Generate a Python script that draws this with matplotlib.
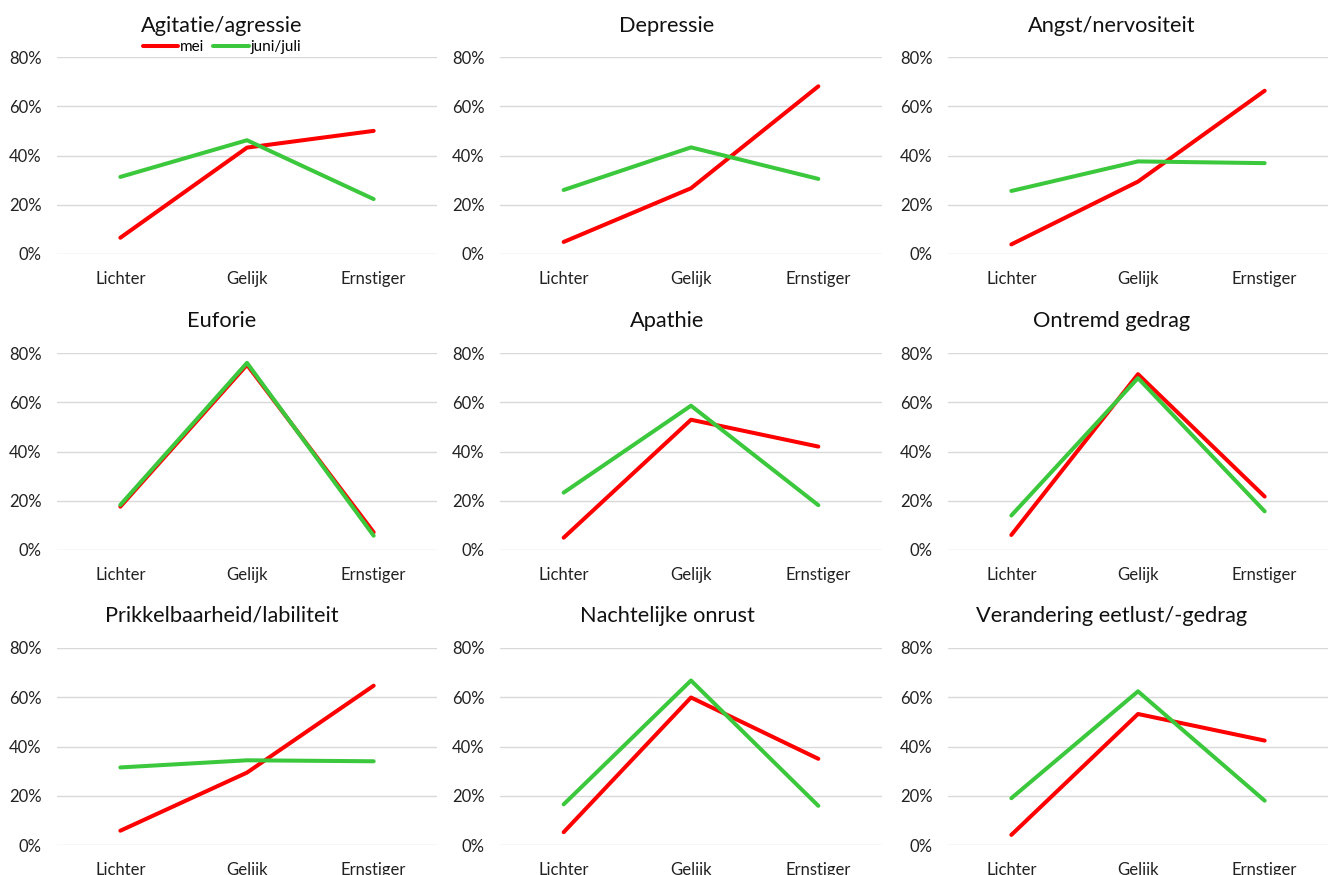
import matplotlib.pyplot as plt
from matplotlib.ticker import PercentFormatter

plt.rcParams["font.family"] = ["Lato", "DejaVu Sans"]

categories = ["Lichter", "Gelijk", "Ernstiger"]
series_names = ["mei", "juni/juli"]
titles = [
    "Agitatie/agressie", "Depressie", "Angst/nervositeit",
    "Euforie", "Apathie", "Ontremd gedrag",
    "Prikkelbaarheid/labiliteit", "Nachtelijke onrust", "Verandering eetlust/-gedrag",
]

# percentages per panel, order: Lichter, Gelijk, Ernstiger
mei = [
    [6.6, 43.2, 50.0],
    [4.9, 26.7, 68.1],
    [3.9, 29.4, 66.3],
    [17.6, 75.2, 7.2],
    [5.0, 52.9, 42.0],
    [6.1, 71.4, 21.7],
    [5.8, 29.4, 64.7],
    [5.2, 59.9, 35.0],
    [4.1, 53.2, 42.4],
]
juni_juli = [
    [31.3, 46.2, 22.3],
    [26.0, 43.3, 30.5],
    [25.6, 37.6, 36.9],
    [18.3, 76.0, 5.8],
    [23.3, 58.6, 18.2],
    [14.0, 69.8, 15.7],
    [31.5, 34.4, 34.0],
    [16.5, 66.8, 15.9],
    [19.0, 62.4, 18.0],
]

RED = "#FF0000"
GREEN = "#3CC83C"
W, H = 1333, 875

fig = plt.figure(figsize=(W / 100, H / 100), dpi=100)

# plot-area boxes in pixels (left, right) per column and (top, bottom) per row
cols = [(57, 437), (500, 882), (948, 1328)]
rows = [(57, 254), (353, 550), (648, 845)]
chart_centers = [222, 667, 1112]
title_baselines = [32, 327, 622]

for i, title in enumerate(titles):
    r, c = divmod(i, 3)
    x0, x1 = cols[c]
    y0, y1 = rows[r]
    ax = fig.add_axes([x0 / W, 1 - y1 / H, (x1 - x0) / W, (y1 - y0) / H])
    x = range(len(categories))
    ax.plot(x, mei[i], color=RED, lw=2.9, solid_capstyle="round", clip_on=False, label=series_names[0], zorder=3)
    ax.plot(x, juni_juli[i], color=GREEN, lw=2.9, solid_capstyle="round", clip_on=False, label=series_names[1], zorder=3)
    ax.set_xlim(-0.5, 2.5)
    ax.set_ylim(0, 80)
    ax.set_yticks([0, 20, 40, 60, 80])
    ax.yaxis.set_major_formatter(PercentFormatter(decimals=0))
    ax.set_xticks(list(x))
    ax.set_xticklabels(categories)
    ax.grid(axis="y", color="#D9D9D9", lw=1)
    ax.set_axisbelow(True)
    for s in ax.spines.values():
        s.set_visible(False)
    ax.tick_params(axis="y", length=0, pad=11, labelsize=12, labelcolor="#222222")
    ax.tick_params(axis="x", length=0, pad=12, labelsize=12, labelcolor="#222222")
    fig.text(chart_centers[c] / W, 1 - title_baselines[r] / H, title, ha="center", va="baseline",
             fontsize=15.7, color="#111111")
    if i == 0:
        ax.legend(loc="center", bbox_to_anchor=(chart_centers[0] / W, 1 - 47 / H), bbox_transform=fig.transFigure,
                  ncol=2, frameon=False, fontsize=11, handlelength=2.3, handletextpad=0.15,
                  columnspacing=0.6, borderpad=0)

fig.savefig("out.png", dpi=100)
